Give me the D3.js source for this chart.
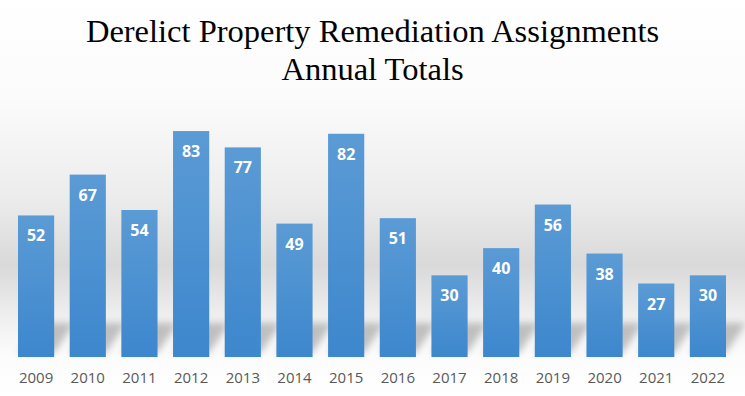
<!DOCTYPE html>
<html>
<head>
<meta charset="utf-8">
<script src="https://cdn.jsdelivr.net/npm/d3@7"></script>
<style>
  body { margin: 0; background: #fff; }
  svg { display: block; }
</style>
</head>
<body>
<svg id="chart" width="745" height="396"></svg>
<script>
// data
var years = ["2009", "2010", "2011", "2012", "2013", "2014", "2015", "2016", "2017", "2018", "2019", "2020", "2021", "2022"];
var totals = [52, 67, 54, 83, 77, 49, 82, 51, 30, 40, 56, 38, 27, 30];
var titleLines = ["Derelict Property Remediation Assignments", "Annual Totals"];

var W = 745, H = 396;
var BASE_Y = 357;
var svg = d3.select("#chart");
var defs = svg.append("defs");

// background gradient (white -> grey -> white)
var bg = defs.append("linearGradient").attr("id", "bg").attr("x1", 0).attr("y1", 0).attr("x2", 0).attr("y2", 1);
bg.append("stop").attr("offset", "0%").attr("stop-color", "#ffffff");
bg.append("stop").attr("offset", "25%").attr("stop-color", "#fbfbfb");
bg.append("stop").attr("offset", "50%").attr("stop-color", "#ececec");
bg.append("stop").attr("offset", "67%").attr("stop-color", "#d9d9d9");
bg.append("stop").attr("offset", "80%").attr("stop-color", "#efefef");
bg.append("stop").attr("offset", "90%").attr("stop-color", "#fcfcfc");
bg.append("stop").attr("offset", "100%").attr("stop-color", "#ffffff");
svg.append("rect").attr("width", W).attr("height", H).attr("fill", "url(#bg)");

// bar gradient
var bar = defs.append("linearGradient").attr("id", "barGrad").attr("x1", 0).attr("y1", 0).attr("x2", 0).attr("y2", 1);
bar.append("stop").attr("offset", "0%").attr("stop-color", "#5b9bd5");
bar.append("stop").attr("offset", "100%").attr("stop-color", "#3d87cd");

// shadow blur
defs.append("filter").attr("id", "blur").attr("x", "-50%").attr("y", "-50%").attr("width", "200%").attr("height", "200%")
  .append("feGaussianBlur").attr("stdDeviation", 3.5);

// scales
var x = d3.scaleBand().domain(years).range([18, 726]).paddingInner(0.3).paddingOuter(0);
var y = d3.scaleLinear().domain([0, 90]).range([BASE_Y, BASE_Y - 245]);

// title
svg.append("g").selectAll("text")
  .data(titleLines)
  .enter()
  .append("text")
  .attr("x", W / 2)
  .attr("y", function(d, i){ return 42 + i * 38; })
  .attr("text-anchor", "middle")
  .attr("font-family", "'Liberation Serif', 'DejaVu Serif', serif")
  .attr("font-size", 32.5)
  .attr("fill", "#000")
  .text(function(d){ return d; });

// bar shadows
svg.append("g").selectAll("path")
  .data(totals)
  .enter()
  .append("path")
  .attr("d", function(d, i){
    var x0 = x(years[i]), bw = x.bandwidth();
    var h = 34;
    return "M" + x0 + "," + (BASE_Y - 4) + " L" + (x0 + bw) + "," + (BASE_Y - 4) +
      " L" + (x0 + bw + 20) + "," + (BASE_Y - h) + " L" + (x0 + 20) + "," + (BASE_Y - h) + "Z";
  })
  .attr("fill", "#8a8a8a")
  .attr("opacity", 0.5)
  .attr("filter", "url(#blur)");

// bars
svg.append("g").selectAll("rect")
  .data(totals)
  .enter()
  .append("rect")
  .attr("x", function(d, i){ return x(years[i]); })
  .attr("y", function(d){ return y(d); })
  .attr("width", x.bandwidth())
  .attr("height", function(d){ return BASE_Y - y(d); })
  .attr("fill", "url(#barGrad)");

// value labels
svg.append("g").selectAll("text")
  .data(totals)
  .enter()
  .append("text")
  .attr("x", function(d, i){ return x(years[i]) + x.bandwidth() / 2; })
  .attr("y", function(d){ return y(d) + 26; })
  .attr("text-anchor", "middle")
  .attr("font-family", "'Open Sans', 'Liberation Sans', sans-serif")
  .attr("font-weight", "bold")
  .attr("font-size", 16)
  .attr("fill", "#fff")
  .text(function(d){ return d; });

// x axis
var xAxis = svg.append("g")
  .attr("transform", "translate(0," + BASE_Y + ")")
  .call(d3.axisBottom(x).tickSize(0).tickPadding(15));
xAxis.select(".domain").remove();
xAxis.selectAll("text")
  .attr("font-family", "'Open Sans', 'Liberation Sans', sans-serif")
  .attr("font-size", 15)
  .attr("fill", "#595959");
</script>
</body>
</html>
